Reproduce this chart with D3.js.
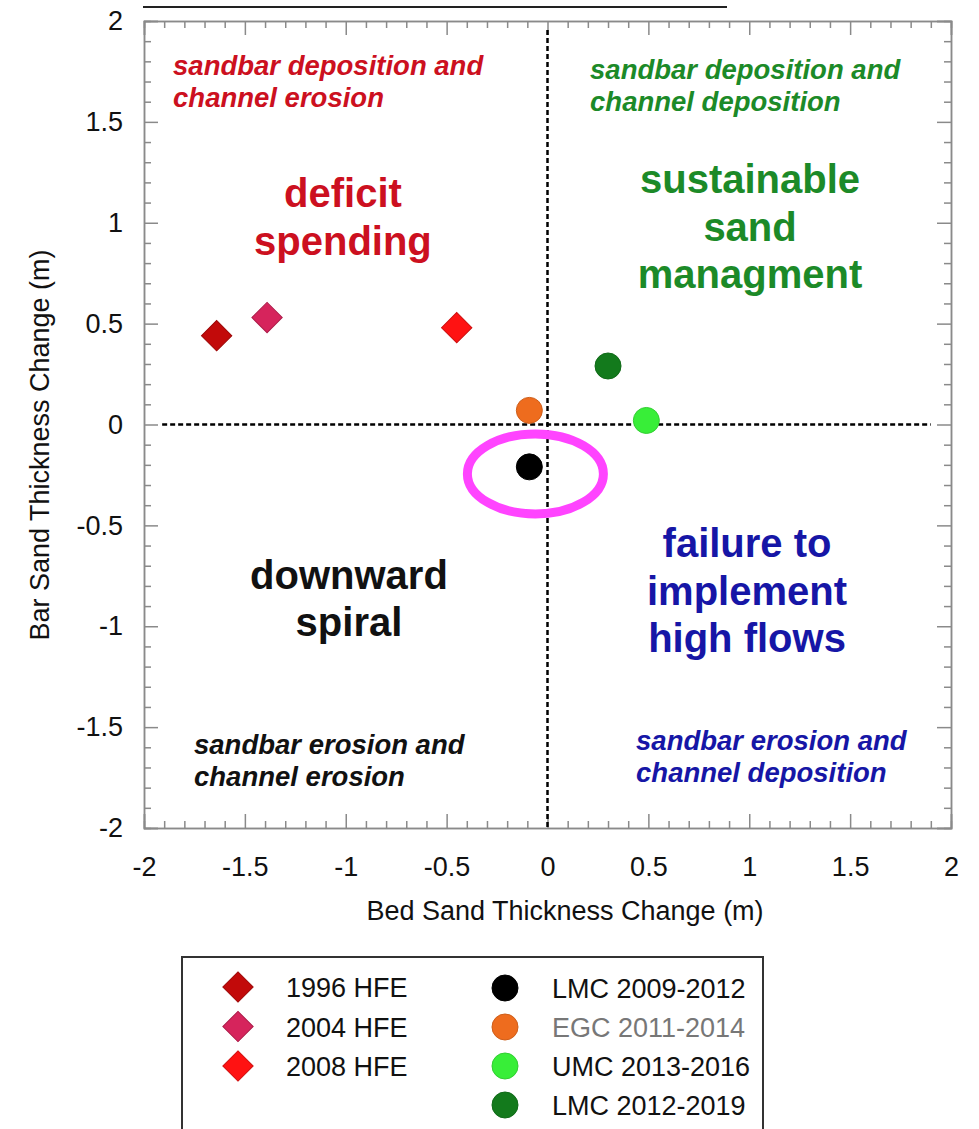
<!DOCTYPE html>
<meta charset="utf-8">
<style>
body { margin: 0; background: #fff; }
text { font-family: "Liberation Sans", Arial, sans-serif; }
.axis path, .axis line { stroke: #8a8a8a; stroke-width: 1.5; }
.axis text { fill: #111; font-size: 27px; }
</style>
<script src="https://d3js.org/d3.v7.min.js"></script>
<body>
<script>

// --- data ---
var hfeNames  = ["1996 HFE", "2004 HFE", "2008 HFE"];
var hfeBed    = [-1.64, -1.39, -0.45];
var hfeBar    = [0.44, 0.53, 0.48];
var hfeColors = ["#c20a0a", "#d6245c", "#ff1212"];

var periodNames  = ["LMC 2009-2012", "EGC 2011-2014", "UMC 2013-2016", "LMC 2012-2019"];
var periodBed    = [-0.09, -0.09, 0.49, 0.30];
var periodBar    = [-0.21, 0.07, 0.02, 0.29];
var periodColors = ["#000000", "#ee6c1e", "#38ee38", "#137a1c"];

var majorTicks = [-2, -1.5, -1, -0.5, 0, 0.5, 1, 1.5, 2];

var cornerLabels = [
  ["sandbar deposition and", "channel erosion"],
  ["sandbar deposition and", "channel deposition"],
  ["sandbar erosion and", "channel erosion"],
  ["sandbar erosion and", "channel deposition"]
];
var bigLabels = [
  ["deficit", "spending"],
  ["sustainable", "sand", "managment"],
  ["downward", "spiral"],
  ["failure to", "implement", "high flows"]
];

var width = 979,
    height = 1129;

var svg = d3.select("body").append("svg")
    .attr("width", width)
    .attr("height", height);

var x = d3.scaleLinear().domain([-2, 2]).range([144, 951]);
var y = d3.scaleLinear().domain([-2, 2]).range([828, 21]);

var minorTicks = d3.range(-20, 21).filter(function(i) { return i % 5 !== 0; })
    .map(function(i) { return i / 10; });

// stray rule above the plot
svg.append("line")
    .attr("x1", 143).attr("x2", 727)
    .attr("y1", 7).attr("y2", 7)
    .attr("stroke", "#222").attr("stroke-width", 2);

// axes: labelled bottom/left, mirrored top/right, ticks inward
function fmt(d) { return String(d); }

svg.append("g").attr("class", "axis")
    .attr("transform", "translate(0," + y(-2) + ")")
    .call(d3.axisBottom(x).tickValues(majorTicks).tickSize(-14).tickPadding(29).tickFormat(fmt));
svg.append("g").attr("class", "axis")
    .attr("transform", "translate(0," + y(-2) + ")")
    .call(d3.axisBottom(x).tickValues(minorTicks).tickSize(-7).tickFormat(""));

svg.append("g").attr("class", "axis")
    .attr("transform", "translate(" + x(-2) + ",0)")
    .call(d3.axisLeft(y).tickValues(majorTicks).tickSize(-14).tickPadding(21).tickFormat(fmt));
svg.append("g").attr("class", "axis")
    .attr("transform", "translate(" + x(-2) + ",0)")
    .call(d3.axisLeft(y).tickValues(minorTicks).tickSize(-7).tickFormat(""));

svg.append("g").attr("class", "axis")
    .attr("transform", "translate(0," + y(2) + ")")
    .call(d3.axisTop(x).tickValues(majorTicks).tickSize(-14).tickFormat(""));
svg.append("g").attr("class", "axis")
    .attr("transform", "translate(0," + y(2) + ")")
    .call(d3.axisTop(x).tickValues(minorTicks).tickSize(-7).tickFormat(""));

svg.append("g").attr("class", "axis")
    .attr("transform", "translate(" + x(2) + ",0)")
    .call(d3.axisRight(y).tickValues(majorTicks).tickSize(-14).tickFormat(""));
svg.append("g").attr("class", "axis")
    .attr("transform", "translate(" + x(2) + ",0)")
    .call(d3.axisRight(y).tickValues(minorTicks).tickSize(-7).tickFormat(""));

svg.selectAll(".axis .domain").attr("stroke", "#8a8a8a");

// axis titles
svg.append("text")
    .attr("x", 565).attr("y", 920)
    .attr("text-anchor", "middle")
    .attr("font-size", 27).attr("fill", "#111")
    .text("Bed Sand Thickness Change (m)");

svg.append("text")
    .attr("transform", "translate(49,445) rotate(-90)")
    .attr("text-anchor", "middle")
    .attr("font-size", 27).attr("fill", "#111")
    .text("Bar Sand Thickness Change (m)");

// zero lines
svg.append("line")
    .attr("x1", x(-1.91)).attr("x2", x(1.9))
    .attr("y1", y(0)).attr("y2", y(0))
    .attr("stroke", "#000").attr("stroke-width", 2.5)
    .attr("stroke-dasharray", "5,3");
svg.append("line")
    .attr("x1", x(0)).attr("x2", x(0))
    .attr("y1", y(1.955)).attr("y2", y(-2))
    .attr("stroke", "#000").attr("stroke-width", 2.5)
    .attr("stroke-dasharray", "5,3");

// quadrant captions
var cornerPos = [[-1.856, 1.732, "#cc1020"], [0.211, 1.713, "#1c8a28"],
                 [-1.752, -1.633, "#111"], [0.439, -1.613, "#1616a6"]];
cornerLabels.forEach(function(lines, i) {
  var t = svg.append("text")
      .attr("x", x(cornerPos[i][0])).attr("y", y(cornerPos[i][1]))
      .attr("font-size", 27.5).attr("font-weight", "bold").attr("font-style", "italic")
      .attr("fill", cornerPos[i][2]);
  t.selectAll("tspan").data(lines).enter().append("tspan")
      .attr("x", x(cornerPos[i][0]))
      .attr("dy", function(d, j) { return j ? 32 : 0; })
      .text(function(d) { return d; });
});

var bigPos = [[-1.014, 1.078, "#cc1020"], [1.004, 1.147, "#1c8a28"],
              [-0.984, -0.815, "#111"], [0.989, -0.657, "#1616a6"]];
bigLabels.forEach(function(lines, i) {
  var t = svg.append("text")
      .attr("x", x(bigPos[i][0])).attr("y", y(bigPos[i][1]))
      .attr("text-anchor", "middle")
      .attr("font-size", 40).attr("font-weight", "bold")
      .attr("fill", bigPos[i][2]);
  t.selectAll("tspan").data(lines).enter().append("tspan")
      .attr("x", x(bigPos[i][0]))
      .attr("dy", function(d, j) { return j ? 47.5 : 0; })
      .text(function(d) { return d; });
});

// markers
var diamond = d3.symbol().type(d3.symbolSquare).size(460);

svg.selectAll(".hfe")
  .data(hfeNames)
  .enter().append("path")
    .attr("class", "hfe")
    .attr("d", diamond)
    .attr("transform", function(d, i) {
      return "translate(" + x(hfeBed[i]) + "," + y(hfeBar[i]) + ") rotate(45)";
    })
    .attr("fill", function(d, i) { return hfeColors[i]; })
    .attr("stroke", function(d, i) { return d3.color(hfeColors[i]).darker(0.6); })
    .attr("stroke-width", 1);

svg.selectAll(".period")
  .data(periodNames)
  .enter().append("circle")
    .attr("class", "period")
    .attr("cx", function(d, i) { return x(periodBed[i]); })
    .attr("cy", function(d, i) { return y(periodBar[i]); })
    .attr("r", 13)
    .attr("fill", function(d, i) { return periodColors[i]; })
    .attr("stroke", function(d, i) { return d3.color(periodColors[i]).darker(0.4); })
    .attr("stroke-width", 1);

// highlight ring around LMC 2009-2012
svg.append("ellipse")
    .attr("cx", x(-0.06)).attr("cy", y(-0.245))
    .attr("rx", 68).attr("ry", 40)
    .attr("fill", "none")
    .attr("stroke", "#ff44ff").attr("stroke-width", 9);

// legend
var legend = svg.append("g");

legend.append("rect")
    .attr("x", 182).attr("y", 957)
    .attr("width", 581).attr("height", 200)
    .attr("fill", "none").attr("stroke", "#333").attr("stroke-width", 2);

var lh = legend.selectAll(".lh").data(hfeNames).enter().append("g")
    .attr("transform", function(d, i) { return "translate(238," + (987 + i * 39.5) + ")"; });
lh.append("path")
    .attr("d", diamond)
    .attr("transform", "rotate(45)")
    .attr("fill", function(d, i) { return hfeColors[i]; })
    .attr("stroke", function(d, i) { return d3.color(hfeColors[i]).darker(0.6); })
    .attr("stroke-width", 1);
lh.append("text")
    .attr("x", 48).attr("y", 10)
    .attr("font-size", 27).attr("fill", "#111")
    .text(function(d) { return d; });

var lp = legend.selectAll(".lp").data(periodNames).enter().append("g")
    .attr("transform", function(d, i) { return "translate(505," + (988 + i * 39) + ")"; });
lp.append("circle")
    .attr("r", 13)
    .attr("fill", function(d, i) { return periodColors[i]; })
    .attr("stroke", function(d, i) { return d3.color(periodColors[i]).darker(0.4); })
    .attr("stroke-width", 1);
lp.append("text")
    .attr("x", 47).attr("y", 10)
    .attr("font-size", 27)
    .attr("fill", function(d, i) { return i === 1 ? "#777" : "#111"; })
    .text(function(d) { return d; });

</script>
